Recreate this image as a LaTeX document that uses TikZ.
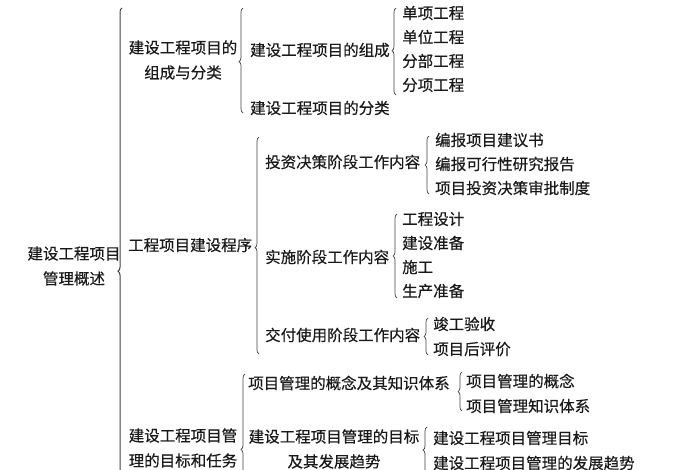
\documentclass[tikz,border=0pt]{standalone}
\usepackage{fontspec}
\newfontfamily\cjk[FakeBold=0.4]{Noto Sans CJK SC}
\usetikzlibrary{decorations.pathreplacing}
\begin{document}
\begin{tikzpicture}[x=1pt,y=-1pt,
  every node/.style={inner sep=0pt,anchor=west,text=black!90,
    font=\cjk\fontsize{15.5}{25}\selectfont},
  brace/.style={decorate,decoration={brace,amplitude=4pt,aspect=#1},
    line width=0.7pt,black!75},
  brace/.default=0.5]
\clip (0,0) rectangle (700,470);
% root
\node[anchor=center,align=center] (root) at (74,266) {建设工程项目\\管理概述};
\coordinate (root-b) at (122,478);
\coordinate (root-t) at (122,8);
\draw[brace=0.44,line width=1pt] (root-b) -- (root-t);
% level 1
\node[anchor=center,align=center] (comp) at (183,60) {建设工程项目的\\组成与分类};
\node (proc) at (128,245) {工程项目建设程序};
\node[anchor=center,align=center] (goal) at (183,448) {建设工程项目管\\理的目标和任务};
% composition and classes
\coordinate (comp-b) at (243,113);
\coordinate (comp-t) at (243,8);
\draw[brace=0.49] (comp-b) -- (comp-t);
\node (parts) at (250,50) {建设工程项目的组成};
\node (kinds) at (250,108) {建设工程项目的分类};
\coordinate (parts-b) at (396,95);
\coordinate (parts-t) at (396,8);
\draw[brace=0.51] (parts-b) -- (parts-t);
\node (p1) at (402,13) {单项工程};
\node (p2) at (402,37) {单位工程};
\node (p3) at (402,61) {分部工程};
\node (p4) at (402,85) {分项工程};
% construction procedure
\coordinate (proc-b) at (259,354);
\coordinate (proc-t) at (259,137);
\draw[brace=0.49] (proc-b) -- (proc-t);
\node (dec) at (265,162) {投资决策阶段工作内容};
\node (imp) at (265,257) {实施阶段工作内容};
\node (del) at (265,335) {交付使用阶段工作内容};
\coordinate (dec-b) at (429,194);
\coordinate (dec-t) at (429,136);
\draw[brace] (dec-b) -- (dec-t);
\node (d1) at (435,140) {编报项目建议书};
\node (d2) at (435,164) {编报可行性研究报告};
\node (d3) at (435,188) {项目投资决策审批制度};
\coordinate (imp-b) at (397,298);
\coordinate (imp-t) at (397,214);
\draw[brace] (imp-b) -- (imp-t);
\node (i1) at (402,219) {工程设计};
\node (i2) at (402,243) {建设准备};
\node (i3) at (402,267) {施工};
\node (i4) at (402,291) {生产准备};
\coordinate (del-b) at (428,355);
\coordinate (del-t) at (428,318);
\draw[brace] (del-b) -- (del-t);
\node (e1) at (433,324) {竣工验收};
\node (e2) at (433,349) {项目后评价};
% goals and tasks
\coordinate (goal-b) at (245,476);
\coordinate (goal-t) at (245,374);
\draw[brace=0.26] (goal-b) -- (goal-t);
\node (know) at (248,383) {项目管理的概念及其知识体系};
\node[anchor=center,align=center] (trend) at (334,449) {建设工程项目管理的目标\\及其发展趋势};
\coordinate (know-b) at (462,411);
\coordinate (know-t) at (462,372);
\draw[brace] (know-b) -- (know-t);
\node (k1) at (466,381) {项目管理的概念};
\node (k2) at (466,406) {项目管理知识体系};
\coordinate (trend-b) at (427,476);
\coordinate (trend-t) at (427,427);
\draw[brace=0.53] (trend-b) -- (trend-t);
\node (t1) at (433,438) {建设工程项目管理目标};
\node (t2) at (433,463) {建设工程项目管理的发展趋势};
\end{tikzpicture}
\end{document}
